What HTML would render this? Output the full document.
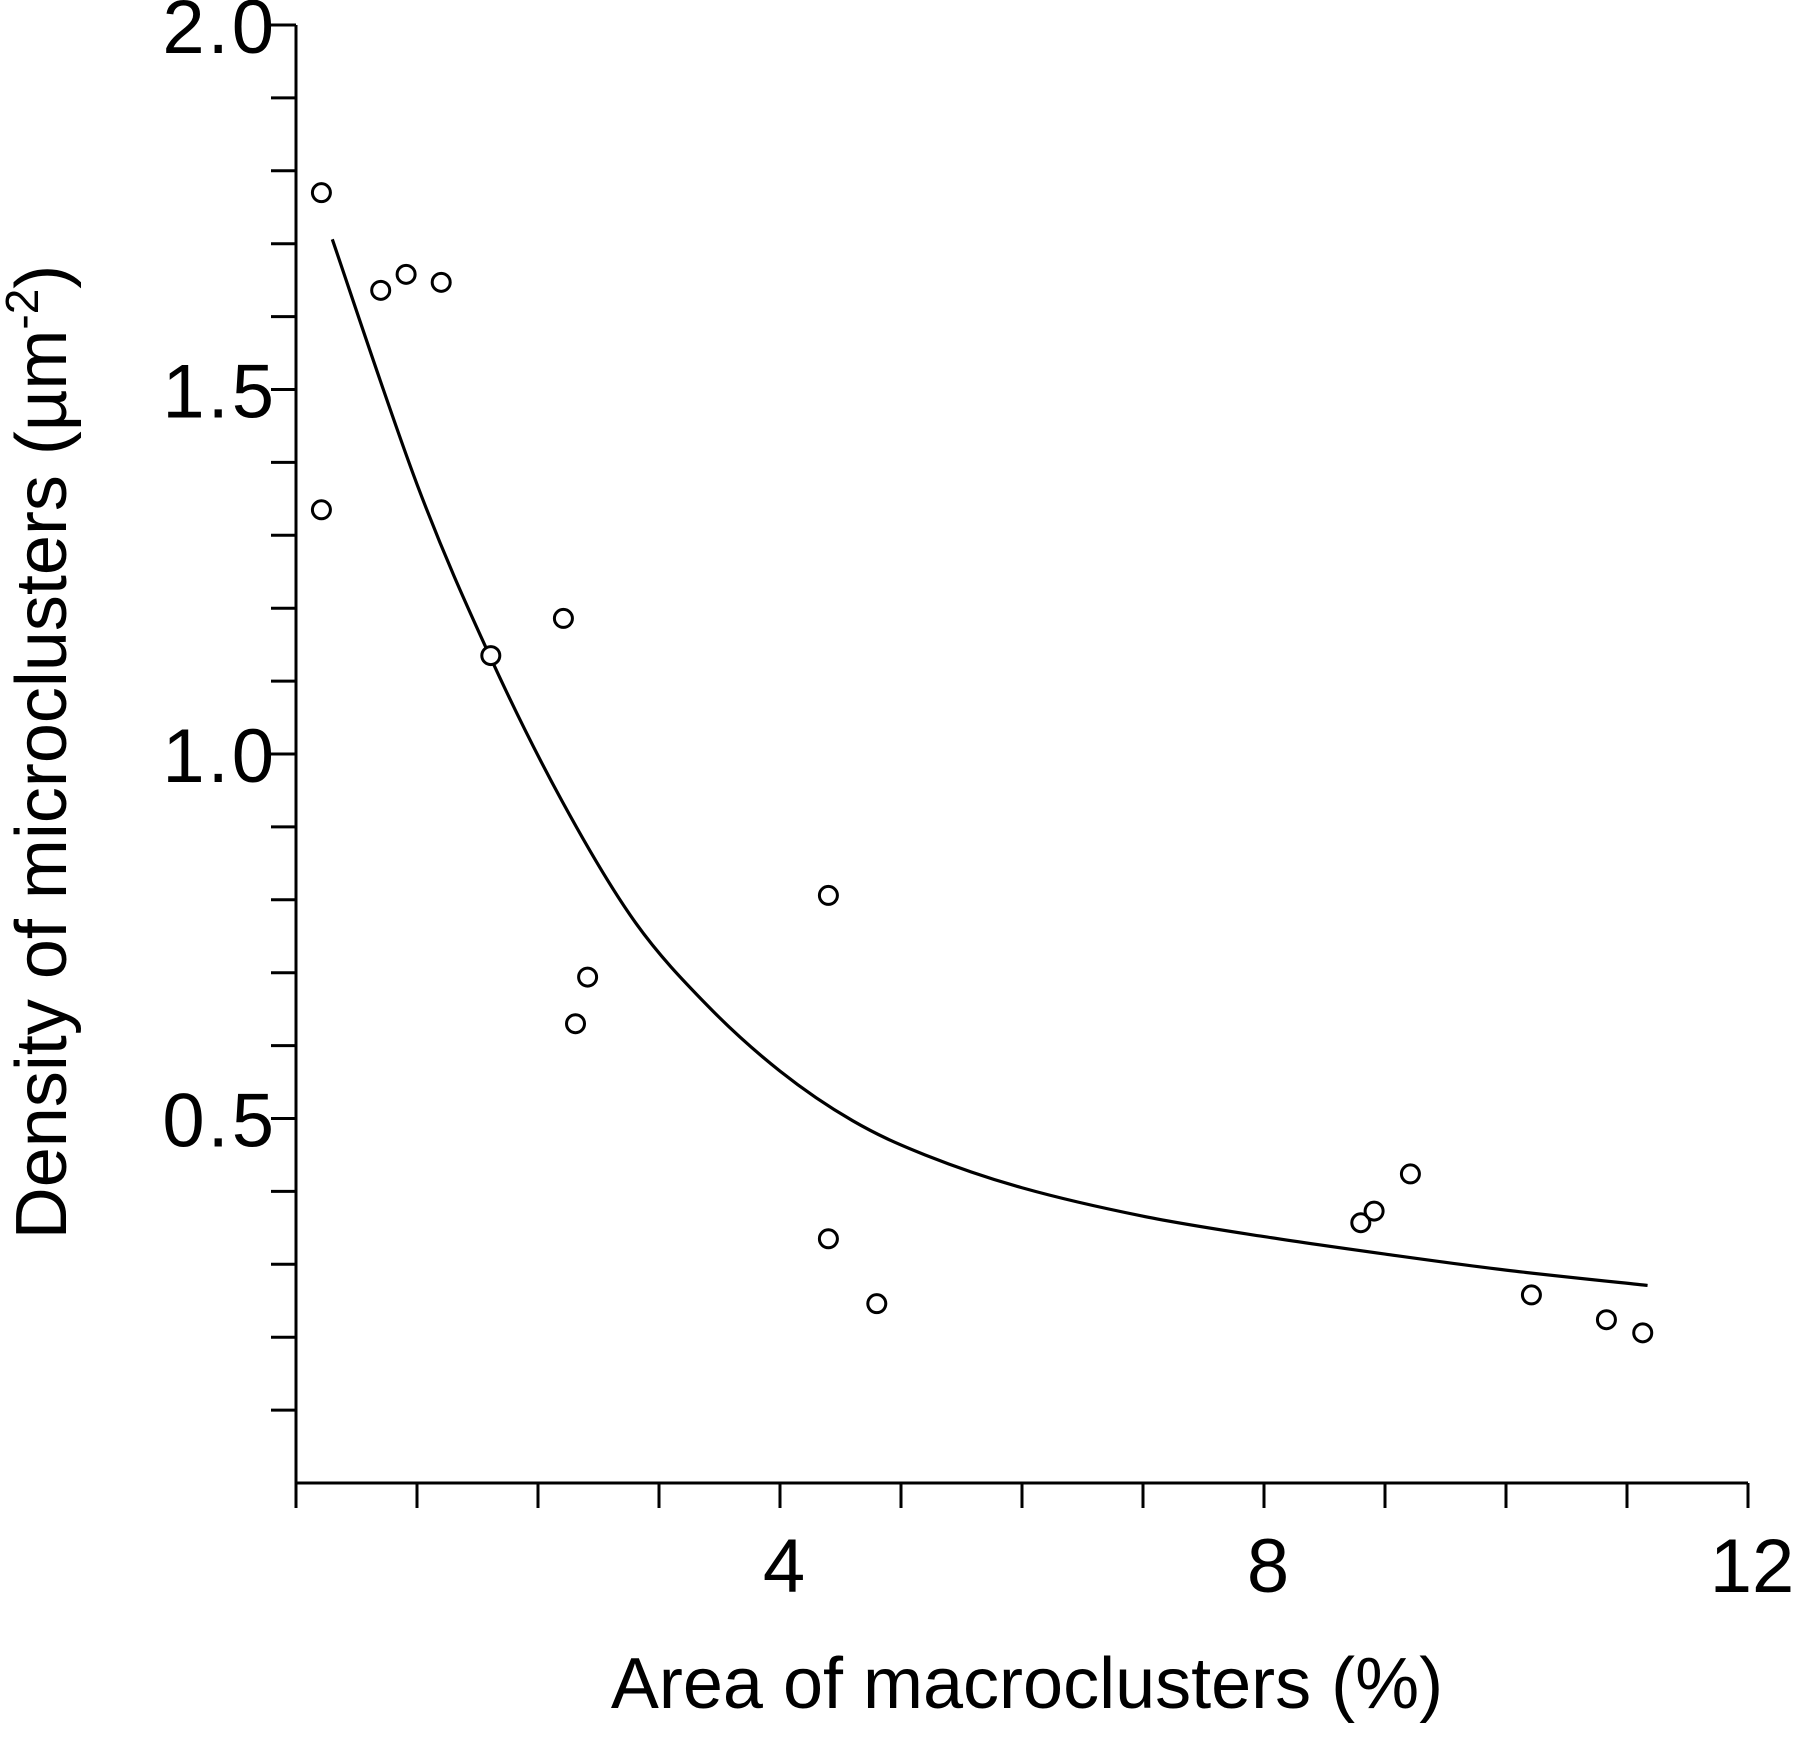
<!DOCTYPE html>
<html><head><meta charset="utf-8"><style>
body{margin:0;background:#fff}
text{font-family:"Liberation Sans",sans-serif;fill:#000}
</style></head><body>
<svg id="chart" width="1800" height="1733" viewBox="0 0 1800 1733" xmlns="http://www.w3.org/2000/svg">
<g id="axes"></g>
<g id="marks"></g>
<text x="1027" y="1708" font-size="72" text-anchor="middle">Area of macroclusters (%)</text>
<text transform="translate(66,752) rotate(-90)" font-size="72" text-anchor="middle">Density of microclusters (µm<tspan font-size="46" dy="-28">-2</tspan><tspan dy="28">)</tspan></text>
</svg>
<script>
const xs=[0.21,0.21,0.70,0.91,1.20,1.61,2.21,2.31,2.41,4.40,4.40,4.80,8.80,8.91,9.21,10.21,10.83,11.13];
const ys=[1.77,1.335,1.636,1.658,1.647,1.135,1.186,0.630,0.694,0.806,0.335,0.246,0.357,0.373,0.424,0.258,0.224,0.206];
const fitX=[0.30,1.0,1.6,2.2,2.8,3.4,4.0,4.6,5.2,6.0,7.0,8.0,9.0,10.0,11.17];
const fitY=[1.706,1.37,1.135,0.935,0.77,0.655,0.565,0.497,0.45,0.405,0.366,0.338,0.314,0.292,0.271];
const xTickLabels=["4","8","12"];
const xTickVals=[4,8,12];
const yTickLabels=["0.5","1.0","1.5","2.0"];
const yTickVals=[0.5,1.0,1.5,2.0];
const NS="http://www.w3.org/2000/svg";
const X=v=>296+v*121, Y=v=>1483-v*729;
function mk(tag,attrs,parent){const e=document.createElementNS(NS,tag);for(const k in attrs)e.setAttribute(k,attrs[k]);parent.appendChild(e);return e;}
const axes=document.getElementById('axes'), marks=document.getElementById('marks');
let a=mk('line',{x1:X(0),y1:Y(2),x2:X(0),y2:Y(0),stroke:'#000','stroke-width':3},axes);


a=mk('line',{x1:X(0),y1:Y(0),x2:X(12),y2:Y(0),stroke:'#000','stroke-width':3},axes);


for(let i=0;i<=12;i++){const t=mk('line',{x1:X(i),y1:Y(0),x2:X(i),y2:Y(0)+25,stroke:'#000','stroke-width':3},axes);

}
for(let i=1;i<=20;i++){const t=mk('line',{x1:X(0)-25,y1:Y(i/10),x2:X(0),y2:Y(i/10),stroke:'#000','stroke-width':3},axes);

}
xTickVals.forEach((v,i)=>{const t=mk('text',{x:X(v)+4,y:1592,'font-size':76,'text-anchor':'middle'},axes);t.textContent=xTickLabels[i];

});
yTickVals.forEach((v,i)=>{const t=mk('text',{x:277,y:Y(v)+28,'font-size':76,'letter-spacing':3,'text-anchor':'end'},axes);t.textContent=yTickLabels[i];

});
const P=fitX.map((v,i)=>[X(v),Y(fitY[i])]);
let d='M'+P[0][0]+','+P[0][1];
for(let i=0;i<P.length-1;i++){const p0=P[Math.max(0,i-1)],p1=P[i],p2=P[i+1],p3=P[Math.min(P.length-1,i+2)];
d+=' C'+(p1[0]+(p2[0]-p0[0])/6)+','+(p1[1]+(p2[1]-p0[1])/6)+' '+(p2[0]-(p3[0]-p1[0])/6)+','+(p2[1]-(p3[1]-p1[1])/6)+' '+p2[0]+','+p2[1];}
const c=mk('path',{d:d,fill:'none',stroke:'#000','stroke-width':3.2},marks);


xs.forEach((v,i)=>{const p=mk('circle',{cx:X(v),cy:Y(ys[i]),r:9,fill:'#fff',stroke:'#000','stroke-width':3},marks);

});
</script>
</body></html>
